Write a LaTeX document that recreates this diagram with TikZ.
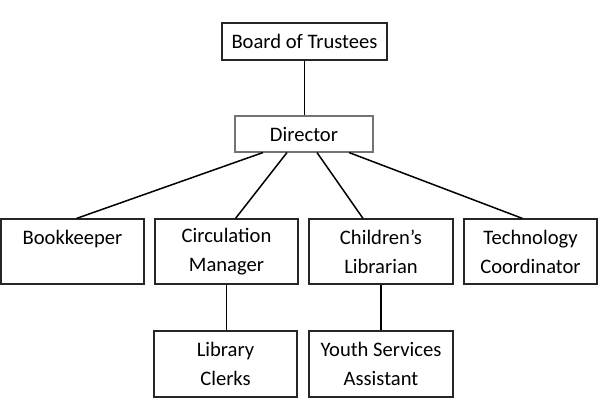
\documentclass[tikz,border=0pt]{standalone}
\usepackage{fontspec}
\setmainfont{Carlito}
\usetikzlibrary{calc}

\begin{document}
\begin{tikzpicture}[x=1pt,y=1pt,
    box/.style={draw=black!85, line width=1.1pt, inner sep=0pt, align=center,
      font=\fontsize{20.6}{29}\selectfont},
    link/.style={line width=1.5pt}]
    \useasboundingbox (0,0) rectangle (600,412);
    \node[box, minimum width=165pt, minimum height=37pt] (board) at (304.5,370.5) {Board of Trustees};
    \node[box, draw=black!55, minimum width=138pt, minimum height=36pt] (dir) at (304,278) {Director};
    \node[box, minimum width=143pt, minimum height=65pt] (bk) at (72.5,160.5) {Bookkeeper\\\mbox{}};
    \node[box, minimum width=143pt, minimum height=65pt] (circ) at (226.5,160.5) {Circulation\\Manager};
    \node[box, minimum width=144pt, minimum height=65pt] (child) at (381,160.5) {Children’s\\Librarian};
    \node[box, minimum width=133pt, minimum height=65pt] (tech) at (530.5,160.5) {Technology\\Coordinator};
    \node[box, minimum width=143pt, minimum height=66pt] (lib) at (225.5,48) {Library\\Clerks};
    \node[box, minimum width=144pt, minimum height=66pt] (youth) at (381,48) {Youth Services\\Assistant};
    \draw[link] (board.south) -- (board.south |- dir.north);
    \draw[link] ([xshift=-41pt]dir.south) -- ([xshift=4pt]bk.north);
    \draw[link] ([xshift=-17pt]dir.south) -- ([xshift=9pt]circ.north);
    \draw[link] ([xshift=13pt]dir.south) -- ([xshift=-18pt]child.north);
    \draw[link] ([xshift=45pt]dir.south) -- ([xshift=-8pt]tech.north);
    \draw[link] (circ.south) -- (circ.south |- lib.north);
    \draw[link] (child.south) -- (child.south |- youth.north);
\end{tikzpicture}
\end{document}
